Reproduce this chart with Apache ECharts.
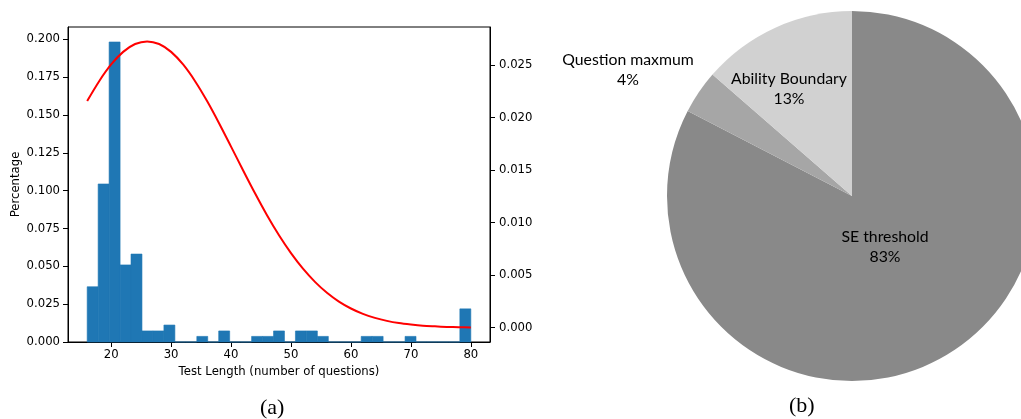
<!DOCTYPE html>
<html>
<head>
<meta charset="utf-8">
<script src="https://cdn.jsdelivr.net/npm/echarts@6/dist/echarts.min.js"></script>
<style>
html,body{margin:0;padding:0;background:#fff;}
#chart{width:1021px;height:419px;}
</style>
</head>
<body>
<div id="chart"></div>
<script>
// Histogram bin edges (test length) and densities
var binEdges = [16.00,17.83,19.66,21.49,23.31,25.14,26.97,28.80,30.63,32.46,34.29,36.11,37.94,39.77,41.60,43.43,45.26,47.09,48.91,50.74,52.57,54.40,56.23,58.06,59.89,61.71,63.54,65.37,67.20,69.03,70.86,72.69,74.51,76.34,78.17,80.00];
var binHeights = [0.0365,0.1044,0.1982,0.0509,0.0581,0.0073,0.0073,0.0112,0,0,0.0037,0,0.0073,0,0,0.0037,0.0037,0.0073,0,0.0073,0.0073,0.0037,0,0,0,0.0037,0.0037,0,0,0.0037,0,0,0,0,0.0219];
// Fitted curve (right axis)
var curveX = [16,18,20,22,24,26,28,30,32,34,36,38,40,42,44,46,48,50,52,54,56,58,60,62,64,66,68,70,72,74,76,78,80];
var curveY = [0.02159,0.02348,0.02507,0.02627,0.02702,0.02727,0.02702,0.02627,0.02507,0.02348,0.02159,0.01948,0.01725,0.01500,0.01280,0.01071,0.00880,0.00710,0.00562,0.00437,0.00333,0.00249,0.00183,0.00132,0.00094,0.00065,0.00044,0.00030,0.00019,0.00013,0.00008,0.00005,0.00003];
// Tick labels
var xTicks = [20,30,40,50,60,70,80];
var yLeftTicks = [0,0.025,0.05,0.075,0.1,0.125,0.15,0.175,0.2];
var yRightTicks = [0,0.005,0.01,0.015,0.02,0.025];
// Pie
var pieNames = ['SE threshold','Question maxmum','Ability Boundary'];
var pieValues = [82.6,3.8,13.6];
var pieLabels = ['83%','4%','13%'];
var pieColors = ['#898989','#a6a6a6','#d1d1d1'];

var histData = [];
for (var i = 0; i < binHeights.length; i++) {
  histData.push([binEdges[i], binEdges[i+1], binHeights[i]]);
}
var curveData = curveX.map(function(x, i){ return [x, curveY[i]]; });
var pieData = pieNames.map(function(n, i){ return {name:n, value:pieValues[i], pct:pieLabels[i], itemStyle:{color:pieColors[i]}}; });

var tickFont = {fontFamily:'DejaVu Sans', fontSize:11.7, color:'#000'};
var labelPos = [[885,247],[628,70],[789,89]];

var chart = echarts.init(document.getElementById('chart'), null, {renderer:'canvas'});
chart.setOption({
  animation:false,
  backgroundColor:'#fff',
  grid:{left:68, right:531, top:27, bottom:77, show:true, borderColor:'#000', borderWidth:1, backgroundColor:'transparent'},
  xAxis:{
    type:'value', min:12.8, max:83.2,
    name:'Test Length (number of questions)', nameLocation:'middle', nameGap:23,
    nameTextStyle:{fontFamily:'DejaVu Sans', fontSize:11.7, color:'#000'},
    axisLine:{show:true, lineStyle:{color:'#000', width:1}},
    axisTick:{show:true, length:5, customValues:xTicks, lineStyle:{color:'#000'}},
    axisLabel:Object.assign({margin:7, customValues:xTicks}, tickFont),
    splitLine:{show:false}
  },
  yAxis:[{
    type:'value', min:0, max:0.2081, position:'left',
    name:'Percentage', nameLocation:'middle', nameGap:46,
    nameTextStyle:{fontFamily:'DejaVu Sans', fontSize:11.7, color:'#000'},
    axisLine:{show:true, lineStyle:{color:'#000', width:1}},
    axisTick:{show:true, length:5, customValues:yLeftTicks, lineStyle:{color:'#000'}},
    axisLabel:Object.assign({margin:8, customValues:yLeftTicks, formatter:function(v){return v.toFixed(3);}}, tickFont),
    splitLine:{show:false}
  },{
    type:'value', min:-0.00136, max:0.02864, position:'right',
    axisLine:{show:true, lineStyle:{color:'#000', width:1}},
    axisTick:{show:true, length:5, customValues:yRightTicks, lineStyle:{color:'#000'}},
    axisLabel:Object.assign({margin:9, customValues:yRightTicks, formatter:function(v){return v.toFixed(3);}}, tickFont),
    splitLine:{show:false}
  }],
  graphic:[
    {type:'text', left:260, top:397, style:{text:'(a)', font:'22px "Liberation Serif"', fill:'#000'}},
    {type:'text', left:789, top:395, style:{text:'(b)', font:'22px "Liberation Serif"', fill:'#000'}}
  ],
  series:[{
    type:'custom',
    xAxisIndex:0, yAxisIndex:0,
    encode:{x:[0,1], y:2},
    data:histData,
    renderItem:function(params, api){
      var p0 = api.coord([api.value(0), api.value(2)]);
      var p1 = api.coord([api.value(1), 0]);
      return {type:'rect', shape:{x:p0[0], y:p0[1], width:p1[0]-p0[0], height:p1[1]-p0[1]}, style:{fill:'#1f77b4', stroke:'#1f77b4', lineWidth:0.6}};
    },
    z:2
  },{
    type:'line', xAxisIndex:0, yAxisIndex:1,
    data:curveData, smooth:0.3, showSymbol:false, symbol:'none',
    lineStyle:{color:'#ff0000', width:2},
    z:3
  },{
    type:'pie',
    center:[852,196], radius:185,
    startAngle:90, clockwise:true,
    avoidLabelOverlap:false,
    data:pieData,
    label:{
      show:true, position:'inside',
      formatter:function(p){ return p.name + '\n' + p.data.pct; },
      fontFamily:'Lato', fontSize:15.8, color:'#000', lineHeight:20, align:'center'
    },
    labelLine:{show:false},
    labelLayout:function(params){
      var pos = labelPos[params.dataIndex];
      return {x:pos[0], y:pos[1], align:'center', verticalAlign:'middle'};
    },
    itemStyle:{borderWidth:0},
    emphasis:{disabled:true}
  }]
});
</script>
</body>
</html>
